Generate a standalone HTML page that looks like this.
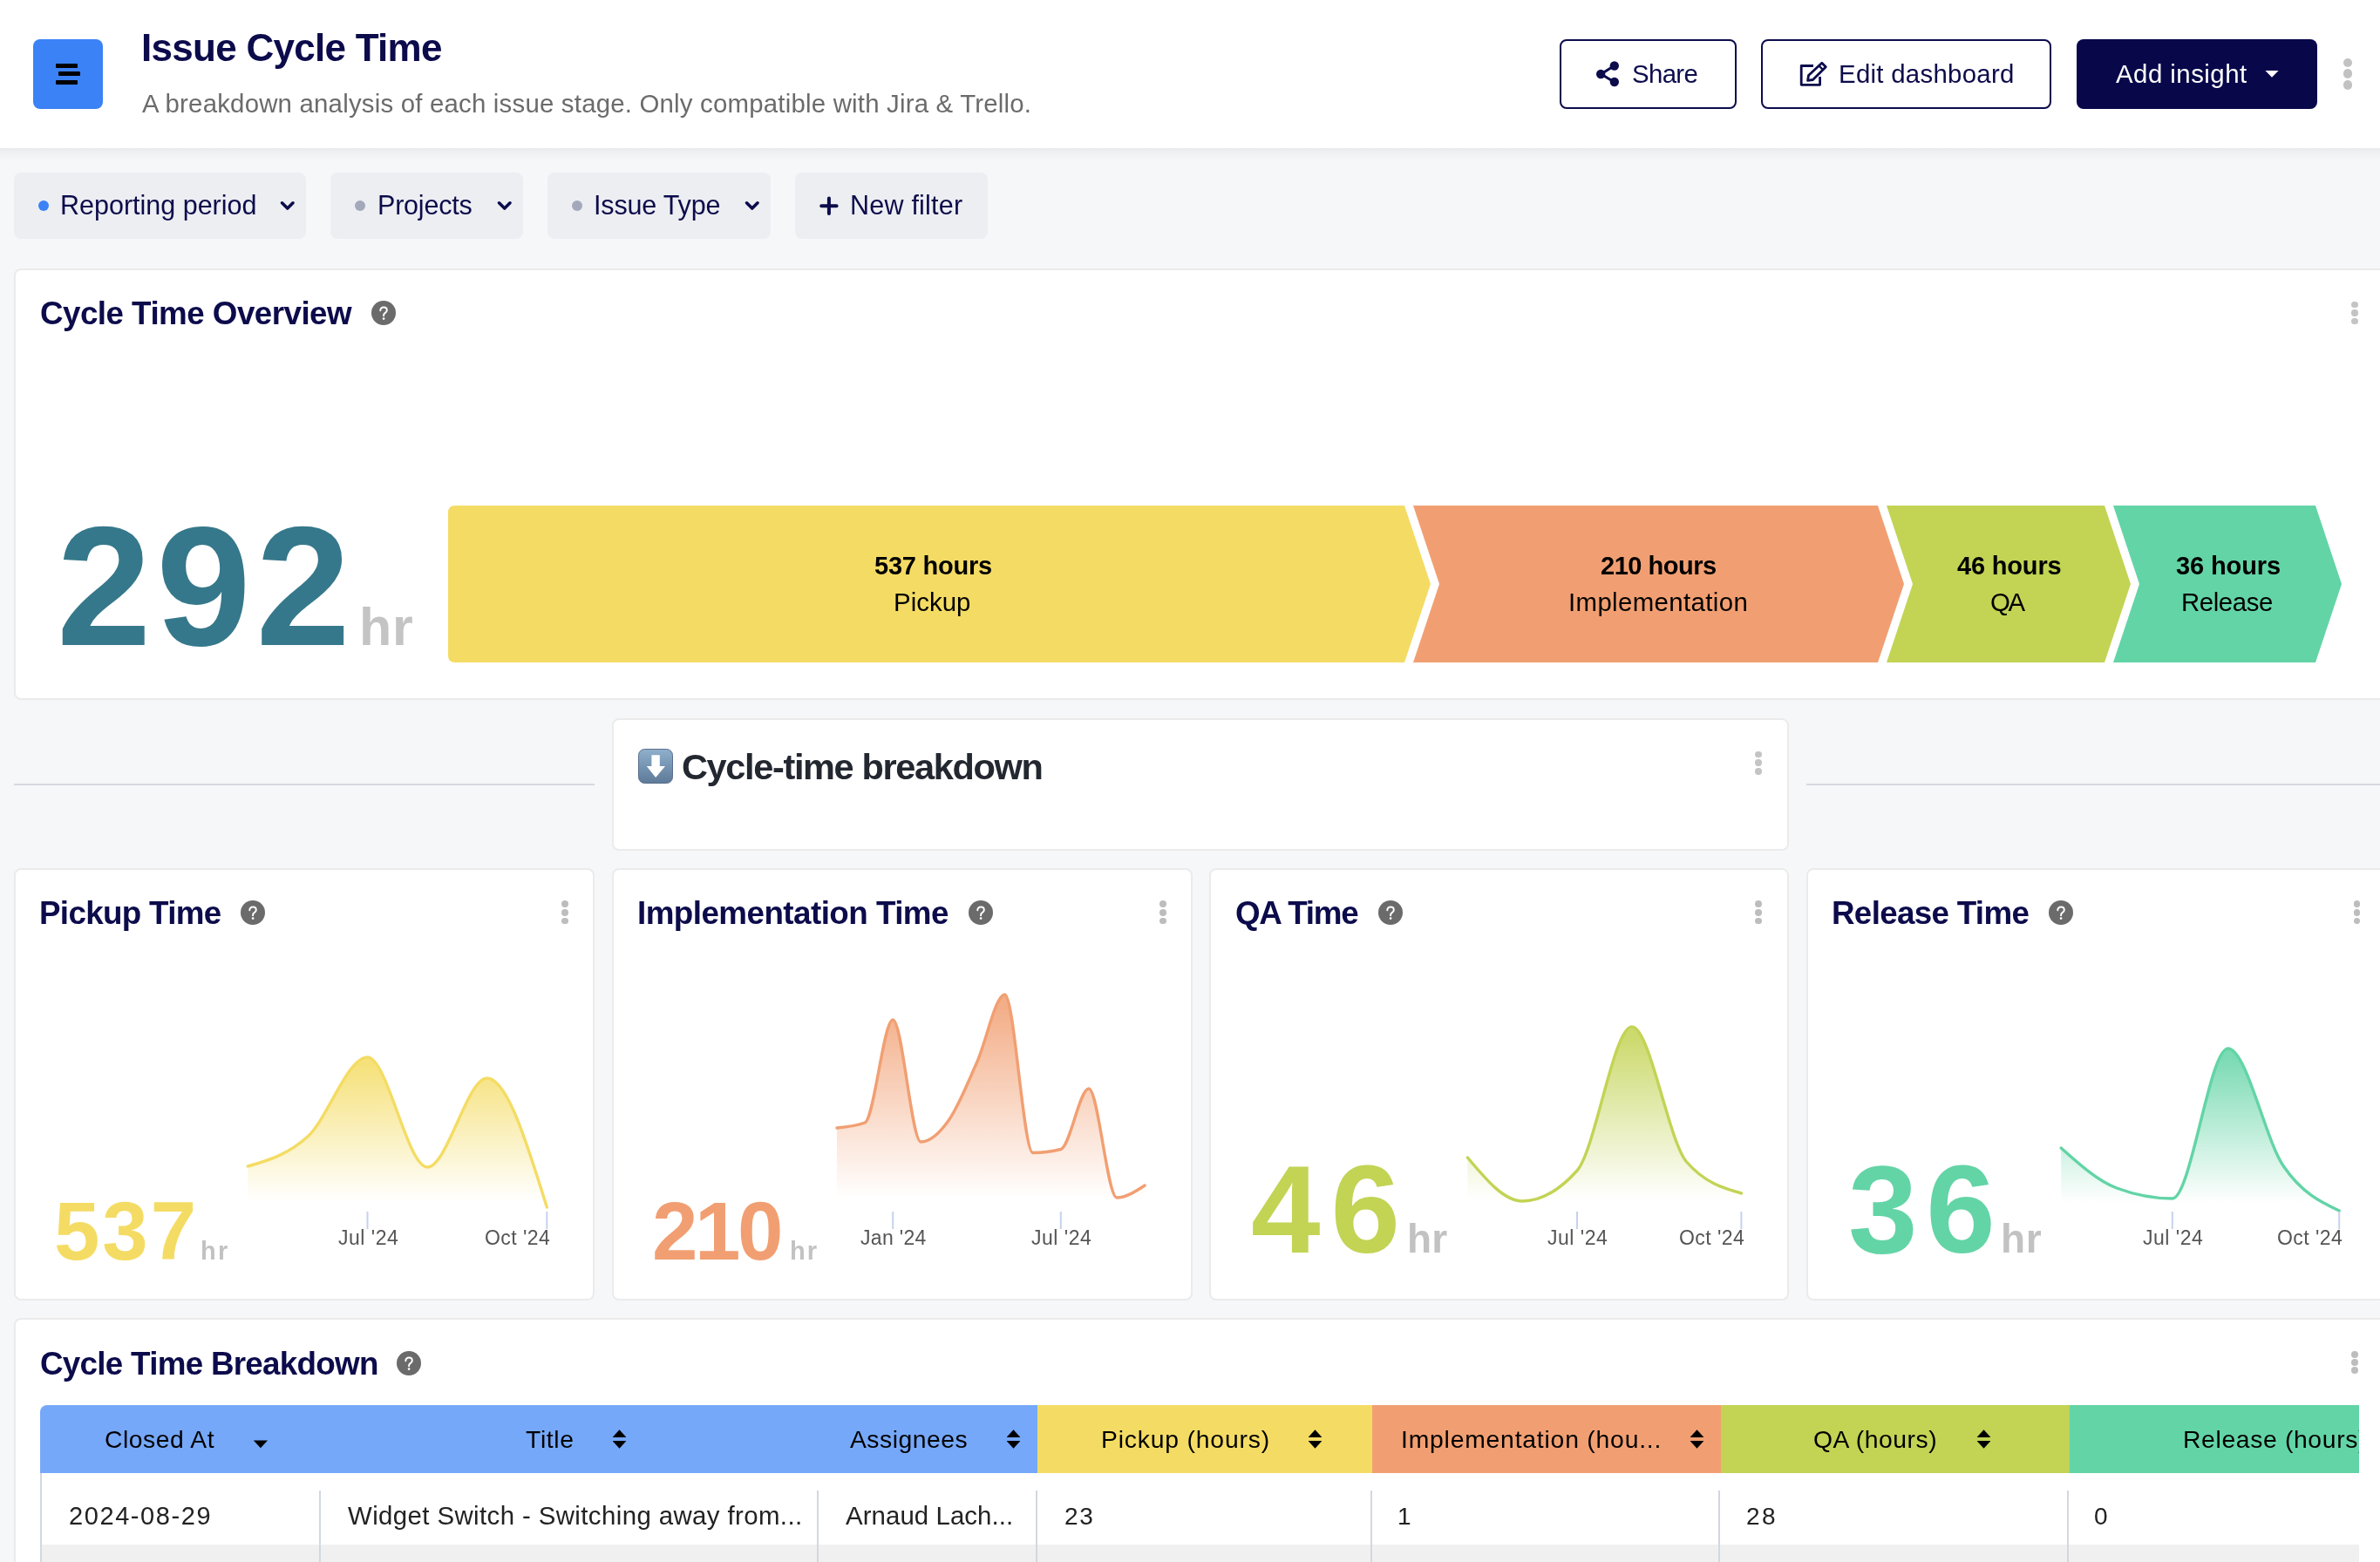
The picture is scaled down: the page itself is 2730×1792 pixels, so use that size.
<!DOCTYPE html>
<html><head><meta charset="utf-8"><title>Issue Cycle Time</title>
<style>
*{margin:0;padding:0;box-sizing:border-box}
html,body{width:2730px;height:1792px;overflow:hidden;background:#f6f7f9;font-family:"Liberation Sans",Arial,sans-serif}
.abs{position:absolute}
.t{position:absolute;white-space:nowrap;will-change:transform}
#hdr{position:absolute;left:0;top:0;width:2730px;height:170px;background:#fff}
#hdrs{position:absolute;left:0;top:170px;width:2730px;height:14px;background:linear-gradient(rgba(20,20,40,0.06),rgba(20,20,40,0.03) 35%,rgba(20,20,40,0))}
.btn{border:2.5px solid #0c0b4b;border-radius:8px;background:#fff}
.chip{background:#edeef2;border-radius:8px}
.dot{border-radius:50%}
.card{background:#fff;border:2px solid #ebebeb;border-radius:8px}
.help{width:28px;height:28px}
@media (max-width:1500px){html{zoom:0.5}}
</style></head><body>
<div id="hdr"></div><div id="hdrs"></div>
<div class="abs" style="left:38px;top:45px;width:80px;height:80px;border-radius:8px;background:#3b82f6"></div>
<div class="abs" style="left:64px;top:72.8px;width:24.5px;height:5px;border-radius:1px;background:#000"></div>
<div class="abs" style="left:67.4px;top:82.4px;width:24.6px;height:5px;border-radius:1px;background:#000"></div>
<div class="abs" style="left:64px;top:92.1px;width:24.5px;height:5px;border-radius:1px;background:#000"></div>
<div class="t" style="left:161.75px;top:33px;font-size:44px;line-height:44px;font-weight:700;color:#0c0b4b;letter-spacing:-0.720px;">Issue Cycle Time</div>
<div class="t" style="left:163.00px;top:104px;font-size:29.4px;line-height:29.4px;font-weight:400;color:#6b6b6b;letter-spacing:0.202px;">A breakdown analysis of each issue stage. Only compatible with Jira &amp; Trello.</div>
<div class="abs btn" style="left:1789px;top:45px;width:203px;height:80px"></div>
<div class="abs btn" style="left:2020px;top:45px;width:333px;height:80px"></div>
<div class="abs" style="left:2382px;top:45px;width:276px;height:80px;border-radius:8px;background:#07074a"></div>
<svg class="abs" style="left:1826px;top:66px" width="36" height="36" viewBox="1826 66 36 36">
<g stroke="#0c0b4b" stroke-width="3.2"><line x1="1836.5" y1="85" x2="1851.5" y2="75.5"/><line x1="1836.5" y1="85" x2="1851.5" y2="94"/></g>
<g fill="#0c0b4b"><circle cx="1851.8" cy="75.5" r="5.2"/><circle cx="1836.2" cy="85" r="5.2"/><circle cx="1851.8" cy="94" r="5.2"/></g></svg>
<div class="t" style="left:1871.50px;top:70px;font-size:29.4px;line-height:29.4px;font-weight:400;color:#0c0b4b;letter-spacing:-0.645px;">Share</div>
<svg class="abs" style="left:2060px;top:66px" width="40" height="36" viewBox="2060 66 40 36">
<path d="M2080,75.5 H2066.2 V97.3 H2087.6 V88" fill="none" stroke="#0c0b4b" stroke-width="2.8" stroke-linejoin="round"/>
<path d="M2089.8,72.2 L2094.3,76.7 L2079.5,91.5 L2073.6,92.4 L2074.5,86.5 Z" fill="none" stroke="#0c0b4b" stroke-width="2.8" stroke-linejoin="round"/>
<line x1="2086.5" y1="75.5" x2="2091" y2="80" stroke="#0c0b4b" stroke-width="2.4"/></svg>
<div class="t" style="left:2109.00px;top:70px;font-size:29.4px;line-height:29.4px;font-weight:400;color:#0c0b4b;letter-spacing:0.279px;">Edit dashboard</div>
<div class="t" style="left:2426.70px;top:70px;font-size:29.4px;line-height:29.4px;font-weight:400;color:#fff;letter-spacing:0.475px;">Add insight</div>
<svg class="abs" style="left:2596px;top:79px" width="20" height="12" viewBox="2596 79 20 12"><path d="M2598.4,81 H2613.6 L2606,88.8 Z" fill="#fff"/></svg>
<div class="abs dot" style="left:2687.8px;top:66.6px;width:10.4px;height:10.4px;background:#c2c2c2"></div>
<div class="abs dot" style="left:2687.8px;top:79.39999999999999px;width:10.4px;height:10.4px;background:#c2c2c2"></div>
<div class="abs dot" style="left:2687.8px;top:92.3px;width:10.4px;height:10.4px;background:#c2c2c2"></div>
<div class="abs chip" style="left:16px;top:198px;width:335px;height:76px"></div>
<div class="abs dot" style="left:43.75px;top:229.75px;width:12.5px;height:12.5px;background:#3b82f6"></div>
<div class="t" style="left:69.00px;top:220px;font-size:30.5px;line-height:30.5px;font-weight:400;color:#0c0b4b;letter-spacing:-0.003px;">Reporting period</div>
<svg class="abs" style="left:320px;top:228px" width="20" height="16" viewBox="320 228 20 16"><path d="M323.5,232.8 L329.75,239 L336,232.8" fill="none" stroke="#0c0b4b" stroke-width="3.6" stroke-linecap="round" stroke-linejoin="round"/></svg>
<div class="abs chip" style="left:379px;top:198px;width:221px;height:76px"></div>
<div class="abs dot" style="left:406.75px;top:229.75px;width:12.5px;height:12.5px;background:#a3a9ba"></div>
<div class="t" style="left:432.50px;top:220px;font-size:30.5px;line-height:30.5px;font-weight:400;color:#0c0b4b;letter-spacing:-0.204px;">Projects</div>
<svg class="abs" style="left:568.75px;top:228px" width="20" height="16" viewBox="568.75 228 20 16"><path d="M572.25,232.8 L578.5,239 L584.75,232.8" fill="none" stroke="#0c0b4b" stroke-width="3.6" stroke-linecap="round" stroke-linejoin="round"/></svg>
<div class="abs chip" style="left:628px;top:198px;width:256px;height:76px"></div>
<div class="abs dot" style="left:655.75px;top:229.75px;width:12.5px;height:12.5px;background:#a3a9ba"></div>
<div class="t" style="left:681.00px;top:220px;font-size:30.5px;line-height:30.5px;font-weight:400;color:#0c0b4b;letter-spacing:-0.170px;">Issue Type</div>
<svg class="abs" style="left:853px;top:228px" width="20" height="16" viewBox="853 228 20 16"><path d="M856.5,232.8 L862.75,239 L869,232.8" fill="none" stroke="#0c0b4b" stroke-width="3.6" stroke-linecap="round" stroke-linejoin="round"/></svg>
<div class="abs chip" style="left:912px;top:198px;width:221px;height:76px"></div>
<svg class="abs" style="left:938px;top:223px" width="26" height="26" viewBox="938 223 26 26"><path d="M950.9,227.5 V245 M942.2,236.2 H959.6" stroke="#0c0b4b" stroke-width="4" stroke-linecap="round"/></svg>
<div class="t" style="left:975.00px;top:220px;font-size:30.5px;line-height:30.5px;font-weight:400;color:#0c0b4b;letter-spacing:0.228px;">New filter</div>
<div class="abs card" style="left:16px;top:308px;width:2740px;height:495px"></div>
<div class="t" style="left:46.40px;top:342px;font-size:36.8px;line-height:36.8px;font-weight:700;color:#0c0b4b;letter-spacing:-0.549px;">Cycle Time Overview</div>
<div class="abs help" style="left:426px;top:345px"><svg width="28" height="28" viewBox="0 0 28 28"><circle cx="14" cy="14" r="14" fill="#6b6b6b"/><path d="M10.3,11.2 C10.3,8.9 12,7.6 14.1,7.6 C16.3,7.6 17.8,9 17.8,10.9 C17.8,12.5 16.8,13.3 15.6,14.1 C14.6,14.8 14.1,15.4 14.1,16.7 V17.3" fill="none" stroke="#fff" stroke-width="2" stroke-linecap="round"/><circle cx="14.1" cy="20.6" r="1.35" fill="#fff"/></svg></div>
<div class="abs dot" style="left:2697.30px;top:346.00px;width:7.4px;height:7.4px;background:#c4c4c4"></div>
<div class="abs dot" style="left:2697.30px;top:355.30px;width:7.4px;height:7.4px;background:#c4c4c4"></div>
<div class="abs dot" style="left:2697.30px;top:364.60px;width:7.4px;height:7.4px;background:#c4c4c4"></div>
<div class="t" style="left:64.90px;top:575px;font-size:195px;line-height:195px;font-weight:700;color:#36788b;letter-spacing:5.800px;">292</div>
<div class="t" style="left:411.60px;top:689px;font-size:61px;line-height:61px;font-weight:700;color:#c4c4c4;letter-spacing:0.739px;">hr</div>
<svg class="abs" style="left:0;top:0" width="2730" height="800" viewBox="0 0 2730 800">
<path d="M522,580 H1611 L1641,670 L1611,760 H522 Q514,760 514,752 V588 Q514,580 522,580 Z" fill="#f4dc64"/>
<path d="M1621,580 H2154 L2184,670 L2154,760 H1621 L1651,670 Z" fill="#f19f72"/>
<path d="M2164,580 H2414 L2444,670 L2414,760 H2164 L2194,670 Z" fill="#c3d354"/>
<path d="M2424,580 H2656 L2686,670 L2656,760 H2424 L2454,670 Z" fill="#63d4a6"/></svg>
<div class="t" style="left:1003.00px;top:635px;font-size:29px;line-height:29px;font-weight:700;color:#000;letter-spacing:-0.234px;">537 hours</div>
<div class="t" style="left:1025.00px;top:676px;font-size:29.4px;line-height:29.4px;font-weight:400;color:#000;letter-spacing:0.026px;">Pickup</div>
<div class="t" style="left:1836.00px;top:635px;font-size:29px;line-height:29px;font-weight:700;color:#000;letter-spacing:-0.484px;">210 hours</div>
<div class="t" style="left:1799.25px;top:676px;font-size:29.4px;line-height:29.4px;font-weight:400;color:#000;letter-spacing:0.377px;">Implementation</div>
<div class="t" style="left:2244.75px;top:635px;font-size:29px;line-height:29px;font-weight:700;color:#000;letter-spacing:-0.178px;">46 hours</div>
<div class="t" style="left:2283.25px;top:676px;font-size:29.4px;line-height:29.4px;font-weight:400;color:#000;letter-spacing:-2.361px;">QA</div>
<div class="t" style="left:2495.50px;top:635px;font-size:29px;line-height:29px;font-weight:700;color:#000;letter-spacing:-0.106px;">36 hours</div>
<div class="t" style="left:2501.50px;top:676px;font-size:29.4px;line-height:29.4px;font-weight:400;color:#000;letter-spacing:-0.414px;">Release</div>
<div class="abs" style="left:16px;top:899px;width:666px;height:2px;background:#d6d8e1"></div>
<div class="abs" style="left:2072px;top:899px;width:700px;height:2px;background:#d6d8e1"></div>
<div class="abs card" style="left:702px;top:824px;width:1350px;height:152px"></div>
<svg class="abs" style="left:732px;top:859px" width="40" height="40" viewBox="0 0 40 40"><defs><linearGradient id="eg" x1="0" y1="0" x2="0" y2="1"><stop offset="0" stop-color="#8fb0cc"/><stop offset="1" stop-color="#5d7a98"/></linearGradient></defs>
<rect x="0.5" y="0.5" width="39" height="39" rx="7" fill="url(#eg)" stroke="#5a6f8c" stroke-width="1"/>
<path d="M15.4,7.3 H24.8 V20 H31 L20.1,33 L9.8,20 H15.4 Z" fill="#fff"/></svg>
<div class="t" style="left:782.00px;top:859px;font-size:41.5px;line-height:41.5px;font-weight:700;color:#23272f;letter-spacing:-1.355px;">Cycle-time breakdown</div>
<div class="abs dot" style="left:2013.30px;top:861.50px;width:7.4px;height:7.4px;background:#c4c4c4"></div>
<div class="abs dot" style="left:2013.30px;top:871.40px;width:7.4px;height:7.4px;background:#c4c4c4"></div>
<div class="abs dot" style="left:2013.30px;top:881.30px;width:7.4px;height:7.4px;background:#c4c4c4"></div>
<div class="abs card" style="left:16px;top:996px;width:666px;height:496px"></div>
<div class="t" style="left:45.30px;top:1030px;font-size:36.8px;line-height:36.8px;font-weight:700;color:#0c0b4b;letter-spacing:-0.693px;">Pickup Time</div>
<div class="abs help" style="left:276.3px;top:1033px"><svg width="28" height="28" viewBox="0 0 28 28"><circle cx="14" cy="14" r="14" fill="#6b6b6b"/><path d="M10.3,11.2 C10.3,8.9 12,7.6 14.1,7.6 C16.3,7.6 17.8,9 17.8,10.9 C17.8,12.5 16.8,13.3 15.6,14.1 C14.6,14.8 14.1,15.4 14.1,16.7 V17.3" fill="none" stroke="#fff" stroke-width="2" stroke-linecap="round"/><circle cx="14.1" cy="20.6" r="1.35" fill="#fff"/></svg></div>
<div class="abs dot" style="left:644.10px;top:1033.30px;width:7.8px;height:7.8px;background:#bdbdbd"></div>
<div class="abs dot" style="left:644.10px;top:1042.95px;width:7.8px;height:7.8px;background:#bdbdbd"></div>
<div class="abs dot" style="left:644.10px;top:1052.60px;width:7.8px;height:7.8px;background:#bdbdbd"></div>
<div class="abs card" style="left:702px;top:996px;width:666px;height:496px"></div>
<div class="t" style="left:731.30px;top:1030px;font-size:36.8px;line-height:36.8px;font-weight:700;color:#0c0b4b;letter-spacing:-0.550px;">Implementation Time</div>
<div class="abs help" style="left:1110.7px;top:1033px"><svg width="28" height="28" viewBox="0 0 28 28"><circle cx="14" cy="14" r="14" fill="#6b6b6b"/><path d="M10.3,11.2 C10.3,8.9 12,7.6 14.1,7.6 C16.3,7.6 17.8,9 17.8,10.9 C17.8,12.5 16.8,13.3 15.6,14.1 C14.6,14.8 14.1,15.4 14.1,16.7 V17.3" fill="none" stroke="#fff" stroke-width="2" stroke-linecap="round"/><circle cx="14.1" cy="20.6" r="1.35" fill="#fff"/></svg></div>
<div class="abs dot" style="left:1330.10px;top:1033.30px;width:7.8px;height:7.8px;background:#bdbdbd"></div>
<div class="abs dot" style="left:1330.10px;top:1042.95px;width:7.8px;height:7.8px;background:#bdbdbd"></div>
<div class="abs dot" style="left:1330.10px;top:1052.60px;width:7.8px;height:7.8px;background:#bdbdbd"></div>
<div class="abs card" style="left:1387px;top:996px;width:665px;height:496px"></div>
<div class="t" style="left:1416.70px;top:1030px;font-size:36.8px;line-height:36.8px;font-weight:700;color:#0c0b4b;letter-spacing:-1.262px;">QA Time</div>
<div class="abs help" style="left:1581.3px;top:1033px"><svg width="28" height="28" viewBox="0 0 28 28"><circle cx="14" cy="14" r="14" fill="#6b6b6b"/><path d="M10.3,11.2 C10.3,8.9 12,7.6 14.1,7.6 C16.3,7.6 17.8,9 17.8,10.9 C17.8,12.5 16.8,13.3 15.6,14.1 C14.6,14.8 14.1,15.4 14.1,16.7 V17.3" fill="none" stroke="#fff" stroke-width="2" stroke-linecap="round"/><circle cx="14.1" cy="20.6" r="1.35" fill="#fff"/></svg></div>
<div class="abs dot" style="left:2013.30px;top:1033.30px;width:7.8px;height:7.8px;background:#bdbdbd"></div>
<div class="abs dot" style="left:2013.30px;top:1042.95px;width:7.8px;height:7.8px;background:#bdbdbd"></div>
<div class="abs dot" style="left:2013.30px;top:1052.60px;width:7.8px;height:7.8px;background:#bdbdbd"></div>
<div class="abs card" style="left:2072px;top:996px;width:665px;height:496px"></div>
<div class="t" style="left:2101.30px;top:1030px;font-size:36.8px;line-height:36.8px;font-weight:700;color:#0c0b4b;letter-spacing:-0.700px;">Release Time</div>
<div class="abs help" style="left:2350.3px;top:1033px"><svg width="28" height="28" viewBox="0 0 28 28"><circle cx="14" cy="14" r="14" fill="#6b6b6b"/><path d="M10.3,11.2 C10.3,8.9 12,7.6 14.1,7.6 C16.3,7.6 17.8,9 17.8,10.9 C17.8,12.5 16.8,13.3 15.6,14.1 C14.6,14.8 14.1,15.4 14.1,16.7 V17.3" fill="none" stroke="#fff" stroke-width="2" stroke-linecap="round"/><circle cx="14.1" cy="20.6" r="1.35" fill="#fff"/></svg></div>
<div class="abs dot" style="left:2699.60px;top:1033.30px;width:7.8px;height:7.8px;background:#bdbdbd"></div>
<div class="abs dot" style="left:2699.60px;top:1042.95px;width:7.8px;height:7.8px;background:#bdbdbd"></div>
<div class="abs dot" style="left:2699.60px;top:1052.60px;width:7.8px;height:7.8px;background:#bdbdbd"></div>
<svg class="abs" style="left:0;top:1100px" width="2730" height="360" viewBox="0 1100 2730 360"><defs><linearGradient id="g0" x1="0" y1="0" x2="0" y2="1"><stop offset="0.05" stop-color="#f4dc64" stop-opacity="0.85"/><stop offset="0.95" stop-color="#f4dc64" stop-opacity="0"/></linearGradient><linearGradient id="g1" x1="0" y1="0" x2="0" y2="1"><stop offset="0.05" stop-color="#f19f72" stop-opacity="0.85"/><stop offset="0.95" stop-color="#f19f72" stop-opacity="0"/></linearGradient><linearGradient id="g2" x1="0" y1="0" x2="0" y2="1"><stop offset="0.05" stop-color="#c3d354" stop-opacity="0.85"/><stop offset="0.95" stop-color="#c3d354" stop-opacity="0"/></linearGradient><linearGradient id="g3" x1="0" y1="0" x2="0" y2="1"><stop offset="0.05" stop-color="#63d4a6" stop-opacity="0.85"/><stop offset="0.95" stop-color="#63d4a6" stop-opacity="0"/></linearGradient></defs><path d="M284.3,1338.0C307.2,1331.4 330.0,1324.8 352.9,1304.0C375.8,1283.2 398.6,1213.0 421.5,1213.0C444.4,1213.0 467.2,1339.0 490.1,1339.0C513.0,1339.0 535.8,1237.0 558.7,1237.0C581.6,1237.0 604.4,1311.0 627.3,1385.0 L627.3,1387 L284.3,1387 Z" fill="url(#g0)"/><path d="M284.3,1338.0C307.2,1331.4 330.0,1324.8 352.9,1304.0C375.8,1283.2 398.6,1213.0 421.5,1213.0C444.4,1213.0 467.2,1339.0 490.1,1339.0C513.0,1339.0 535.8,1237.0 558.7,1237.0C581.6,1237.0 604.4,1311.0 627.3,1385.0" fill="none" stroke="#f4dc64" stroke-width="3.4" stroke-linejoin="round" stroke-linecap="round"/><line x1="421.5" y1="1390" x2="421.5" y2="1410" stroke="#c6d1ee" stroke-width="2"/><line x1="627.3" y1="1390" x2="627.3" y2="1410" stroke="#c6d1ee" stroke-width="2"/><path d="M960.0,1294.0C970.7,1293.0 981.4,1292.0 992.1,1288.0C1002.8,1284.0 1013.5,1170.0 1024.2,1170.0C1034.9,1170.0 1045.6,1310.0 1056.3,1310.0C1067.0,1310.0 1077.7,1300.2 1088.4,1285.0C1099.1,1269.8 1109.8,1243.0 1120.5,1219.0C1131.2,1195.0 1141.9,1141.0 1152.6,1141.0C1163.3,1141.0 1174.0,1322.5 1184.7,1322.5C1195.4,1322.5 1206.1,1321.2 1216.8,1318.5C1227.5,1315.8 1238.2,1249.0 1248.9,1249.0C1259.6,1249.0 1270.3,1374.0 1281.0,1374.0C1291.7,1374.0 1302.4,1367.0 1313.1,1360.0 L1313.1,1387 L960.0,1387 Z" fill="url(#g1)"/><path d="M960.0,1294.0C970.7,1293.0 981.4,1292.0 992.1,1288.0C1002.8,1284.0 1013.5,1170.0 1024.2,1170.0C1034.9,1170.0 1045.6,1310.0 1056.3,1310.0C1067.0,1310.0 1077.7,1300.2 1088.4,1285.0C1099.1,1269.8 1109.8,1243.0 1120.5,1219.0C1131.2,1195.0 1141.9,1141.0 1152.6,1141.0C1163.3,1141.0 1174.0,1322.5 1184.7,1322.5C1195.4,1322.5 1206.1,1321.2 1216.8,1318.5C1227.5,1315.8 1238.2,1249.0 1248.9,1249.0C1259.6,1249.0 1270.3,1374.0 1281.0,1374.0C1291.7,1374.0 1302.4,1367.0 1313.1,1360.0" fill="none" stroke="#f19f72" stroke-width="3.4" stroke-linejoin="round" stroke-linecap="round"/><line x1="1024.2" y1="1390" x2="1024.2" y2="1410" stroke="#c6d1ee" stroke-width="2"/><line x1="1216.8" y1="1390" x2="1216.8" y2="1410" stroke="#c6d1ee" stroke-width="2"/><path d="M1683.4,1328.0C1704.3,1353.0 1725.3,1378.0 1746.2,1378.0C1767.1,1378.0 1788.1,1366.3 1809.0,1343.0C1829.9,1319.7 1850.9,1178.0 1871.8,1178.0C1892.7,1178.0 1913.7,1309.0 1934.6,1333.0C1955.5,1357.0 1976.5,1363.0 1997.4,1369.0 L1997.4,1387 L1683.4,1387 Z" fill="url(#g2)"/><path d="M1683.4,1328.0C1704.3,1353.0 1725.3,1378.0 1746.2,1378.0C1767.1,1378.0 1788.1,1366.3 1809.0,1343.0C1829.9,1319.7 1850.9,1178.0 1871.8,1178.0C1892.7,1178.0 1913.7,1309.0 1934.6,1333.0C1955.5,1357.0 1976.5,1363.0 1997.4,1369.0" fill="none" stroke="#c3d354" stroke-width="3.4" stroke-linejoin="round" stroke-linecap="round"/><line x1="1809.0" y1="1390" x2="1809.0" y2="1410" stroke="#c6d1ee" stroke-width="2"/><line x1="1997.4" y1="1390" x2="1997.4" y2="1410" stroke="#c6d1ee" stroke-width="2"/><path d="M2364.2,1317.0C2385.5,1336.0 2406.7,1355.0 2428.0,1363.0C2449.3,1371.0 2470.5,1375.0 2491.8,1375.0C2513.1,1375.0 2534.3,1203.0 2555.6,1203.0C2576.9,1203.0 2598.1,1307.0 2619.4,1338.0C2640.7,1369.0 2661.9,1379.0 2683.2,1389.0 L2683.2,1387 L2364.2,1387 Z" fill="url(#g3)"/><path d="M2364.2,1317.0C2385.5,1336.0 2406.7,1355.0 2428.0,1363.0C2449.3,1371.0 2470.5,1375.0 2491.8,1375.0C2513.1,1375.0 2534.3,1203.0 2555.6,1203.0C2576.9,1203.0 2598.1,1307.0 2619.4,1338.0C2640.7,1369.0 2661.9,1379.0 2683.2,1389.0" fill="none" stroke="#63d4a6" stroke-width="3.4" stroke-linejoin="round" stroke-linecap="round"/><line x1="2491.8" y1="1390" x2="2491.8" y2="1410" stroke="#c6d1ee" stroke-width="2"/><line x1="2683.2" y1="1390" x2="2683.2" y2="1410" stroke="#c6d1ee" stroke-width="2"/></svg>
<div class="t" style="left:387.50px;top:1409px;font-size:23px;line-height:23px;font-weight:400;color:#555;letter-spacing:0.504px;">Jul '24</div>
<div class="t" style="left:555.80px;top:1409px;font-size:23px;line-height:23px;font-weight:400;color:#555;letter-spacing:0.441px;">Oct '24</div>
<div class="t" style="left:62.00px;top:1366px;font-size:94.3px;line-height:94.3px;font-weight:700;color:#f4dc64;letter-spacing:2.907px;">537</div>
<div class="t" style="left:230.00px;top:1421px;font-size:29px;line-height:29px;font-weight:700;color:#c2c2c2;letter-spacing:2.286px;">hr</div>
<div class="t" style="left:986.90px;top:1409px;font-size:23px;line-height:23px;font-weight:400;color:#555;letter-spacing:0.324px;">Jan '24</div>
<div class="t" style="left:1182.80px;top:1409px;font-size:23px;line-height:23px;font-weight:400;color:#555;letter-spacing:0.504px;">Jul '24</div>
<div class="t" style="left:748.00px;top:1366px;font-size:94.3px;line-height:94.3px;font-weight:700;color:#f19f72;letter-spacing:-3.443px;">210</div>
<div class="t" style="left:906.00px;top:1421px;font-size:29px;line-height:29px;font-weight:700;color:#c2c2c2;letter-spacing:1.986px;">hr</div>
<div class="t" style="left:1775.00px;top:1409px;font-size:23px;line-height:23px;font-weight:400;color:#555;letter-spacing:0.504px;">Jul '24</div>
<div class="t" style="left:1925.90px;top:1409px;font-size:23px;line-height:23px;font-weight:400;color:#555;letter-spacing:0.441px;">Oct '24</div>
<div class="t" style="left:1434.60px;top:1316px;font-size:143px;line-height:143px;font-weight:700;color:#c3d354;letter-spacing:11.870px;">46</div>
<div class="t" style="left:1613.70px;top:1398px;font-size:46px;line-height:46px;font-weight:700;color:#c2c2c2;letter-spacing:0.201px;">hr</div>
<div class="t" style="left:2457.80px;top:1409px;font-size:23px;line-height:23px;font-weight:400;color:#555;letter-spacing:0.504px;">Jul '24</div>
<div class="t" style="left:2611.70px;top:1409px;font-size:23px;line-height:23px;font-weight:400;color:#555;letter-spacing:0.441px;">Oct '24</div>
<div class="t" style="left:2119.70px;top:1316px;font-size:143px;line-height:143px;font-weight:700;color:#63d4a6;letter-spacing:9.770px;">36</div>
<div class="t" style="left:2295.00px;top:1398px;font-size:46px;line-height:46px;font-weight:700;color:#c2c2c2;letter-spacing:0.601px;">hr</div>
<div class="abs card" style="left:16px;top:1512px;width:2740px;height:400px"></div>
<div class="t" style="left:46.00px;top:1547px;font-size:36.8px;line-height:36.8px;font-weight:700;color:#0c0b4b;letter-spacing:-0.722px;">Cycle Time Breakdown</div>
<div class="abs help" style="left:455px;top:1549.6px"><svg width="28" height="28" viewBox="0 0 28 28"><circle cx="14" cy="14" r="14" fill="#6b6b6b"/><path d="M10.3,11.2 C10.3,8.9 12,7.6 14.1,7.6 C16.3,7.6 17.8,9 17.8,10.9 C17.8,12.5 16.8,13.3 15.6,14.1 C14.6,14.8 14.1,15.4 14.1,16.7 V17.3" fill="none" stroke="#fff" stroke-width="2" stroke-linecap="round"/><circle cx="14.1" cy="20.6" r="1.35" fill="#fff"/></svg></div>
<div class="abs dot" style="left:2696.80px;top:1550.00px;width:7.8px;height:7.8px;background:#bdbdbd"></div>
<div class="abs dot" style="left:2696.80px;top:1559.10px;width:7.8px;height:7.8px;background:#bdbdbd"></div>
<div class="abs dot" style="left:2696.80px;top:1568.20px;width:7.8px;height:7.8px;background:#bdbdbd"></div>
<div class="abs" style="left:46px;top:1612px;width:2660px;height:300px;overflow:hidden;border-top-left-radius:8px">
<div class="abs" style="left:0px;top:0;width:1144px;height:78px;background:#76a8f9"></div>
<div class="abs" style="left:1144px;top:0;width:384px;height:78px;background:#f4dc64"></div>
<div class="abs" style="left:1528px;top:0;width:400px;height:78px;background:#f19f72"></div>
<div class="abs" style="left:1928px;top:0;width:400px;height:78px;background:#c3d354"></div>
<div class="abs" style="left:2328px;top:0;width:332px;height:78px;background:#63d4a6"></div>
<div class="abs" style="left:0;top:160px;width:2660px;height:200px;background:#f0f0f0"></div>
<div class="abs" style="left:0;top:78px;width:2px;height:300px;background:#d3d7e0"></div>
<div class="abs" style="left:319.7px;top:98px;width:2px;height:300px;background:#d3d7e0"></div>
<div class="abs" style="left:891.0px;top:98px;width:2px;height:300px;background:#d3d7e0"></div>
<div class="abs" style="left:1141.7px;top:98px;width:2px;height:300px;background:#d3d7e0"></div>
<div class="abs" style="left:1525.7px;top:98px;width:2px;height:300px;background:#d3d7e0"></div>
<div class="abs" style="left:1925.0px;top:98px;width:2px;height:300px;background:#d3d7e0"></div>
<div class="abs" style="left:2324.8px;top:98px;width:2px;height:300px;background:#d3d7e0"></div>
</div>
<div class="t" style="left:120.25px;top:1637px;font-size:28.3px;line-height:28.3px;font-weight:400;color:#000;letter-spacing:0.554px;">Closed At</div>
<div class="t" style="left:603.00px;top:1637px;font-size:28.3px;line-height:28.3px;font-weight:400;color:#000;letter-spacing:0.658px;">Title</div>
<div class="t" style="left:974.80px;top:1637px;font-size:28.3px;line-height:28.3px;font-weight:400;color:#000;letter-spacing:0.499px;">Assignees</div>
<div class="t" style="left:1262.90px;top:1637px;font-size:28.3px;line-height:28.3px;font-weight:400;color:#000;letter-spacing:0.823px;">Pickup (hours)</div>
<div class="t" style="left:1607.40px;top:1637px;font-size:28.3px;line-height:28.3px;font-weight:400;color:#000;letter-spacing:0.801px;">Implementation (hou...</div>
<div class="t" style="left:2080.30px;top:1637px;font-size:28.3px;line-height:28.3px;font-weight:400;color:#000;letter-spacing:0.527px;">QA (hours)</div>
<div class="t" style="left:2504.10px;top:1637px;font-size:28.3px;line-height:28.3px;font-weight:400;color:#000;letter-spacing:0.651px;">Release (hours)</div>
<div class="abs" style="left:2706px;top:1612px;width:40px;height:200px;background:#fff"></div>
<svg class="abs" style="left:701.8px;top:1639px" width="17" height="24" viewBox="0 0 17 24"><path d="M8.5,1.2 L16,9.4 Q16.3,10 15.6,10 H1.4 Q0.7,10 1,9.4 Z" fill="#000"/><path d="M8.5,22.8 L16,14.6 Q16.3,14 15.6,14 H1.4 Q0.7,14 1,14.6 Z" fill="#000"/></svg>
<svg class="abs" style="left:1153.8px;top:1639px" width="17" height="24" viewBox="0 0 17 24"><path d="M8.5,1.2 L16,9.4 Q16.3,10 15.6,10 H1.4 Q0.7,10 1,9.4 Z" fill="#000"/><path d="M8.5,22.8 L16,14.6 Q16.3,14 15.6,14 H1.4 Q0.7,14 1,14.6 Z" fill="#000"/></svg>
<svg class="abs" style="left:1499.6px;top:1639px" width="17" height="24" viewBox="0 0 17 24"><path d="M8.5,1.2 L16,9.4 Q16.3,10 15.6,10 H1.4 Q0.7,10 1,9.4 Z" fill="#000"/><path d="M8.5,22.8 L16,14.6 Q16.3,14 15.6,14 H1.4 Q0.7,14 1,14.6 Z" fill="#000"/></svg>
<svg class="abs" style="left:1938.0px;top:1639px" width="17" height="24" viewBox="0 0 17 24"><path d="M8.5,1.2 L16,9.4 Q16.3,10 15.6,10 H1.4 Q0.7,10 1,9.4 Z" fill="#000"/><path d="M8.5,22.8 L16,14.6 Q16.3,14 15.6,14 H1.4 Q0.7,14 1,14.6 Z" fill="#000"/></svg>
<svg class="abs" style="left:2266.7px;top:1639px" width="17" height="24" viewBox="0 0 17 24"><path d="M8.5,1.2 L16,9.4 Q16.3,10 15.6,10 H1.4 Q0.7,10 1,9.4 Z" fill="#000"/><path d="M8.5,22.8 L16,14.6 Q16.3,14 15.6,14 H1.4 Q0.7,14 1,14.6 Z" fill="#000"/></svg>
<svg class="abs" style="left:289px;top:1650px" width="20" height="14" viewBox="0 0 20 14"><path d="M1.8,2.5 H18 L9.9,11.3 Z" fill="#000"/></svg>
<div class="t" style="left:78.50px;top:1725px;font-size:29px;line-height:29px;font-weight:400;color:#222;letter-spacing:1.587px;">2024-08-29</div>
<div class="t" style="left:398.75px;top:1724px;font-size:29.4px;line-height:29.4px;font-weight:400;color:#222;letter-spacing:0.401px;">Widget Switch - Switching away from...</div>
<div class="t" style="left:969.70px;top:1724px;font-size:29.4px;line-height:29.4px;font-weight:400;color:#222;letter-spacing:0.077px;">Arnaud Lach...</div>
<div class="t" style="left:1220.80px;top:1726px;font-size:28px;line-height:28px;font-weight:400;color:#222;letter-spacing:1.628px;">23</div>
<div class="t" style="left:1602.60px;top:1726px;font-size:28px;line-height:28px;font-weight:400;color:#222;letter-spacing:0.000px;">1</div>
<div class="t" style="left:2003.30px;top:1726px;font-size:28px;line-height:28px;font-weight:400;color:#222;letter-spacing:2.428px;">28</div>
<div class="t" style="left:2402.20px;top:1726px;font-size:28px;line-height:28px;font-weight:400;color:#222;letter-spacing:0.000px;">0</div>
</body></html>
